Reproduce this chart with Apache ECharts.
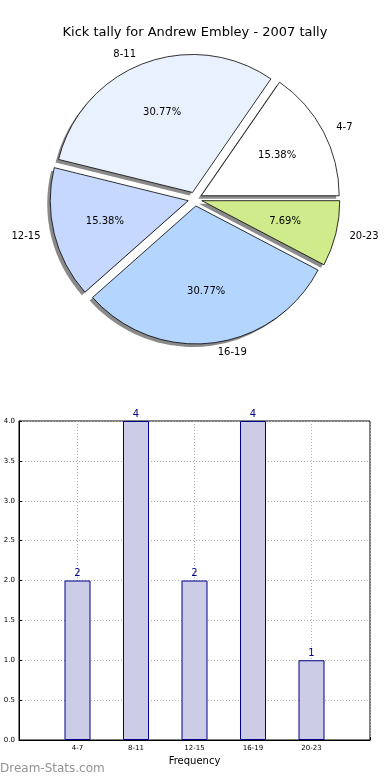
<!DOCTYPE html>
<html><head><meta charset="utf-8">
<script src="https://cdn.jsdelivr.net/npm/echarts@6/dist/echarts.min.js"></script>
<style>html,body{margin:0;padding:0;background:#fff}#c{width:390px;height:780px}</style>
</head><body><div id="c"></div>
<script>
const titleText = 'Kick tally for Andrew Embley - 2007 tally';
const categories = ['4-7', '8-11', '12-15', '16-19', '20-23'];
const values = [2, 4, 2, 4, 1];
const pieColors = ['#ffffff', '#eaf1fe', '#c6d8fe', '#b4d6fe', '#cfeb8b'];
const yTicks = [0, 0.5, 1, 1.5, 2, 2.5, 3, 3.5, 4];
const xAxisTitle = 'Frequency';
const watermark = 'Dream-Stats.com';

const FONT = 'DejaVu Sans';
const R = 138;
const CENTER = [195, 199];
const SHADOW_CENTER = [CENTER[0] - 3, CENTER[1] + 3];
const OFFSET = 7;
const total = values.reduce((a, b) => a + b, 0);

const pieData = categories.map((c, i) => ({
  name: c, value: values[i], selected: true,
  itemStyle: { color: pieColors[i] }
}));
const plainData = categories.map((c, i) => ({ name: c, value: values[i], selected: true }));

const pieBase = {
  type: 'pie', radius: [0, R], startAngle: 0, clockwise: false,
  selectedMode: 'multiple', selectedOffset: OFFSET, silent: true,
  emphasis: { disabled: true }, labelLine: { show: false }
};

const chart = echarts.init(document.getElementById('c'), null, { renderer: 'canvas' });
chart.setOption({
  animation: false,
  title: {
    text: titleText, left: 'center', top: 21,
    textStyle: { fontFamily: FONT, fontSize: 13, fontWeight: 'normal', color: '#000' }
  },
  graphic: [{
    type: 'text', left: 0, top: 763,
    style: { text: watermark, fontFamily: FONT, fontSize: 12, fill: '#939393' }
  }],
  grid: { left: 19, right: 20, top: 421, bottom: 40, show: true, borderColor: '#000', borderWidth: 1, backgroundColor: 'transparent' },
  xAxis: {
    type: 'value', min: 0, max: 6, interval: 1,
    name: xAxisTitle, nameLocation: 'middle', nameGap: 16,
    nameTextStyle: { fontFamily: FONT, fontSize: 10, color: '#000' },
    axisLine: { show: true, lineStyle: { color: '#000' } },
    axisTick: { show: true, inside: true, length: 3, lineStyle: { color: '#000' } },
    axisLabel: {
      fontFamily: FONT, fontSize: 7, color: '#000', margin: 5,
      formatter: v => categories[v - 1] || ''
    },
    splitLine: { show: true, lineStyle: { color: '#b0b0b0', type: [1, 2], width: 1 } }
  },
  yAxis: {
    type: 'value', min: yTicks[0], max: yTicks[yTicks.length - 1], interval: 0.5,
    axisLine: { show: true, lineStyle: { color: '#000' } },
    axisTick: { show: true, inside: true, length: 3, lineStyle: { color: '#000' } },
    axisLabel: { fontFamily: FONT, fontSize: 7, color: '#000', margin: 4, formatter: v => v.toFixed(1) },
    splitLine: { show: true, lineStyle: { color: '#b0b0b0', type: [1, 2], width: 1 } }
  },
  series: [
    Object.assign({}, pieBase, {
      center: SHADOW_CENTER, z: 1,
      data: plainData,
      itemStyle: { color: '#8a8a8a', borderWidth: 0 },
      label: { show: false }
    }),
    Object.assign({}, pieBase, {
      center: CENTER, z: 2,
      data: pieData,
      itemStyle: { borderColor: '#000', borderWidth: 0.8 },
      label: {
        show: true, position: 'outside', formatter: '{b}',
        fontFamily: FONT, fontSize: 10, color: '#000', distanceToLabelLine: 4
      },
      labelLine: { show: false, length: 10, length2: 0 }
    }),
    Object.assign({}, pieBase, {
      center: CENTER, radius: [R * 0.2, R], z: 5,
      data: plainData,
      itemStyle: { color: 'rgba(0,0,0,0)', borderWidth: 0 },
      label: {
        show: true, position: 'inside',
        formatter: p => (p.value / total * 100).toFixed(2) + '%',
        fontFamily: FONT, fontSize: 10, color: '#000'
      }
    }),
    {
      type: 'bar', barWidth: 26,
      data: categories.map((c, i) => [i + 1, values[i]]),
      itemStyle: { color: '#ccccE6', borderColor: '#00008b', borderWidth: 1 },
      label: { show: true, position: 'top', distance: 2, fontFamily: FONT, fontSize: 10, color: '#00008b', formatter: p => p.value[1] },
      z: 1
    }
  ]
});
</script></body></html>
